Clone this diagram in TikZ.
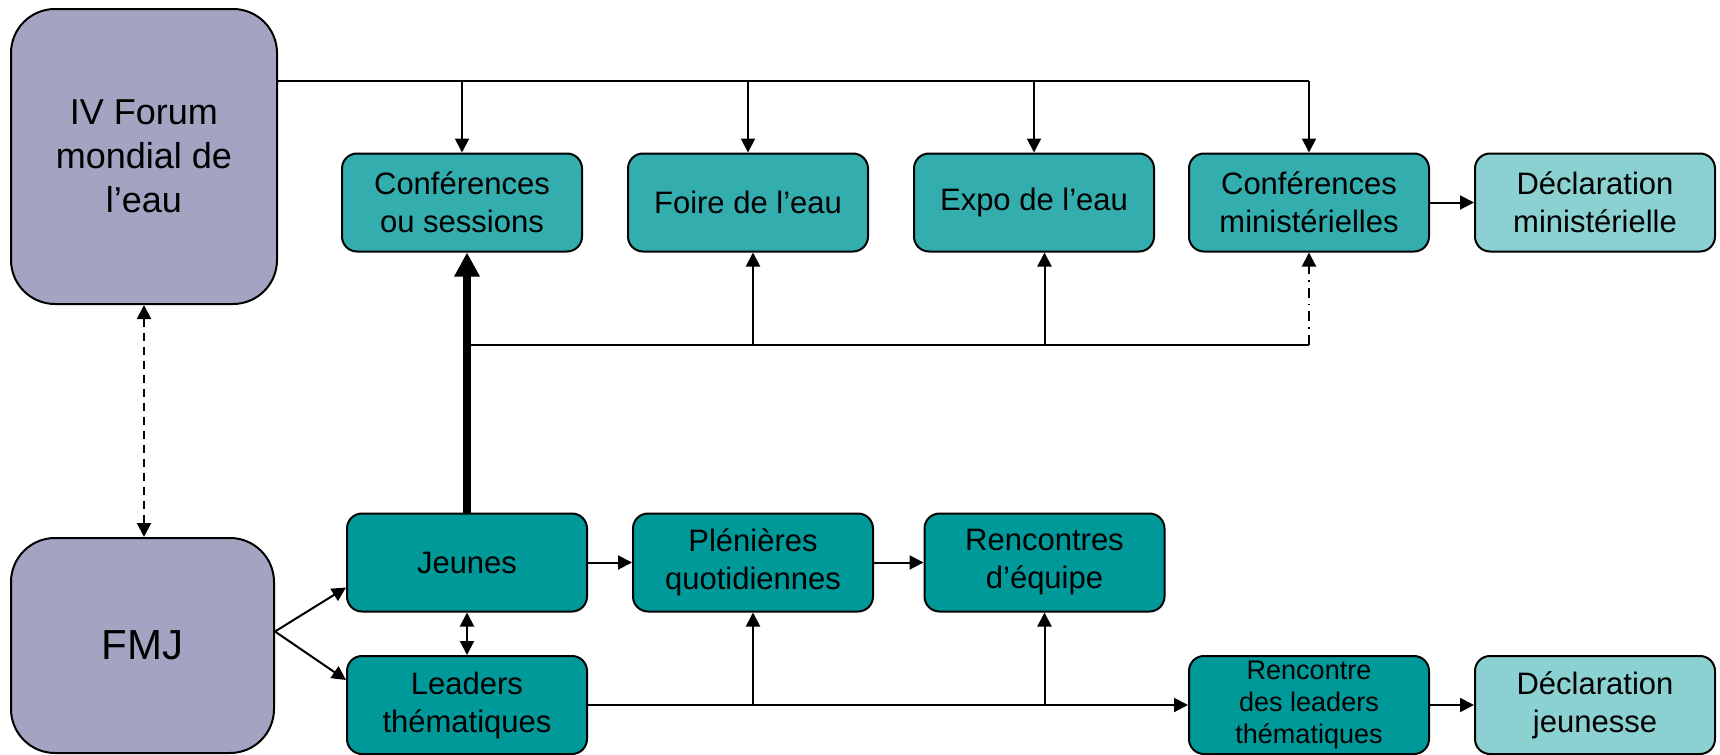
\documentclass[tikz,border=0pt]{standalone}
\usepackage{fontspec}
\setmainfont{Liberation Sans}
\usetikzlibrary{positioning, arrows.meta}
\definecolor{forumgray}{RGB}{163,163,194}
\definecolor{tealmid}{RGB}{51,173,173}
\definecolor{tealdark}{RGB}{0,153,153}
\definecolor{teallight}{RGB}{140,209,209}

\begin{document}
\begin{tikzpicture}[
    x=0.5pt, y=-0.5pt,
    node distance=143pt,
    on grid,
    >={Triangle[length=7pt, width=7pt]},
    every node/.style={align=center, font=\fontsize{15.5}{19}\selectfont},
    box/.style={draw=black, line width=1pt, rounded corners=7.5pt, minimum width=120pt, minimum height=49pt, inner sep=2pt},
    big/.style={draw=black, line width=1pt, rounded corners=22pt, fill=forumgray, font=\fontsize{18}{22}\selectfont},
    every edge/.append style={line width=1pt}
]
   \useasboundingbox (0,0) rectangle (1720,755);

   % Boxes
   \node[big, minimum width=133pt, minimum height=147.5pt] (forum) at (144,156.5) {IV Forum\\mondial de\\l’eau};
   \node[big, minimum width=131.5pt, minimum height=107.5pt, font=\fontsize{21}{25}\selectfont] (fmj) at (142.5,645.5) {FMJ};

   \node[box, fill=tealmid] (conf) at (462,202.5) {Conférences\\ou sessions};
   \node[box, fill=tealmid] (foire) [right=of conf] {Foire de l’eau};
   \node[box, fill=tealmid] (expo) [right=of foire] {Expo de l’eau};
   \node[box, fill=tealmid] (confmin) [right=137.5pt of expo] {Conférences\\ministérielles};
   \node[box, fill=teallight] (declmin) [right=of confmin] {Déclaration\\ministérielle};

   \node[box, fill=tealdark] (jeunes) at (467,562.5) {Jeunes};
   \node[box, fill=tealdark] (leaders) [below=71.25pt of jeunes] {Leaders\\thématiques};
   \node[box, fill=tealdark] (plen) [right=of jeunes] {Plénières\\quotidiennes};
   \node[box, fill=tealdark] (renc) [right=145.75pt of plen] {Rencontres\\d’équipe};
   \node[box, fill=tealdark, font=\fontsize{13.5}{16}\selectfont, inner sep=0.5pt] (rleaders) at (confmin |- leaders) {Rencontre\\des leaders\\thématiques};
   \node[box, fill=teallight] (declj) [right=of rleaders] {Déclaration\\jeunesse};

   \coordinate (bus) at (0,81);
   \coordinate (mid) at (0,345);

   % Lines
   \draw[line width=1pt] (forum.east |- bus) -- (confmin |- bus);
   \draw[line width=1pt] (jeunes.north |- mid) -- (confmin |- mid);
   \draw[line width=4pt, -{Triangle[length=12pt, width=12pt]}] (jeunes) -- (jeunes |- conf.south);

   % Transitions
   \path[->]
   (conf |- bus) edge (conf)
   (foire |- bus) edge (foire)
   (expo |- bus) edge (expo)
   (confmin |- bus) edge (confmin)
   (confmin) edge (declmin)

   (plen |- mid) edge (plen |- foire.south)
   (renc |- mid) edge (renc |- expo.south)
   (confmin |- mid) edge [dash pattern=on 5pt off 3pt on 0.8pt off 3pt] (confmin)

   (forum) edge [<->, dash pattern=on 4pt off 3pt] (forum |- fmj.north)

   ([yshift=7pt]fmj.east) edge ([yshift=12.5pt]jeunes.south west)
   ([yshift=7pt]fmj.east) edge ([yshift=-12.5pt]leaders.north west)
   (jeunes) edge [<->] (leaders)
   (jeunes) edge (plen)
   (plen) edge (renc)

   (leaders) edge (rleaders)
   (plen |- leaders) edge (plen)
   (renc |- leaders) edge (renc)
   (rleaders) edge (declj);
\end{tikzpicture}
\end{document}
